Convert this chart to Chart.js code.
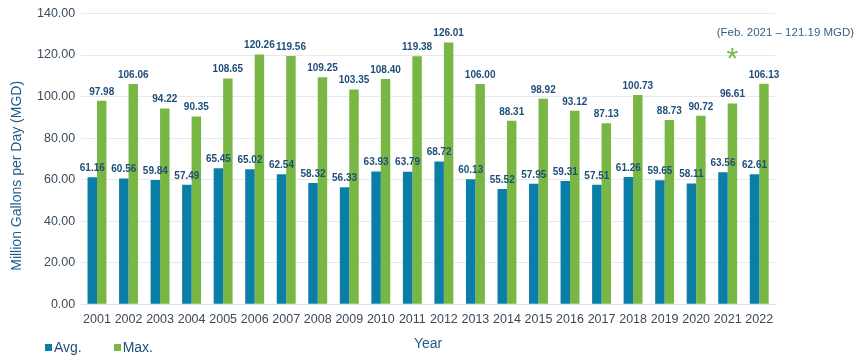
<!DOCTYPE html>
<html>
<head>
<meta charset="utf-8">
<script src="https://cdn.jsdelivr.net/npm/chart.js@4.4.1/dist/chart.umd.min.js"></script>
<style>
  body { margin: 0; background: #fff; }
  #wrap { position: relative; width: 860px; height: 360px; }
  #legend { position: absolute; left: 45px; top: 339px; font: 14px Arial, "Liberation Sans", sans-serif; color: #1f4e79; }
  #legend span { display: inline-block; margin-right: 28px; }
  #legend i { display: inline-block; width: 7px; height: 7px; margin-right: 2px; vertical-align: 1px; }
</style>
</head>
<body>
<div id="wrap">
  <canvas id="waterChart" width="860" height="360"></canvas>
  <div id="legend">
    <span><i style="background:#0b7ea8"></i>Avg.</span>
    <span><i style="background:#79b745"></i>Max.</span>
  </div>
</div>
<script>
// data
const years = ['2001','2002','2003','2004','2005','2006','2007','2008','2009','2010','2011',
  '2012','2013','2014','2015','2016','2017','2018','2019','2020','2021','2022'];
const avgFlow = [61.16, 60.56, 59.84, 57.49, 65.45, 65.02, 62.54, 58.32, 56.33, 63.93, 63.79,
  68.72, 60.13, 55.52, 57.95, 59.31, 57.51, 61.26, 59.65, 58.11, 63.56, 62.61];
const maxFlow = [97.98, 106.06, 94.22, 90.35, 108.65, 120.26, 119.56, 109.25, 103.35, 108.40, 119.38,
  126.01, 106.00, 88.31, 98.92, 93.12, 87.13, 100.73, 88.73, 90.72, 96.61, 106.13];
const peakYear = '2021';
const peakValue = 121.19;
const peakNote = '(Feb. 2021 \u2013 121.19 MGD)';
const yTitle = 'Million Gallons per Day (MGD)';

const FONT = 'Arial, "Liberation Sans", sans-serif';

// value labels over each bar
const barLabels = {
  id: 'barLabels',
  afterDatasetsDraw(chart) {
    const ctx = chart.ctx;
    ctx.save();
    ctx.font = 'bold 10px ' + FONT;
    ctx.fillStyle = '#1f4e79';
    ctx.textAlign = 'center';
    ctx.textBaseline = 'bottom';
    chart.data.datasets.forEach((ds, i) => {
      chart.getDatasetMeta(i).data.forEach((bar, j) => {
        ctx.fillText(ds.data[j].toFixed(2), bar.x, bar.y - 4);
      });
    });
    ctx.restore();
  }
};

// asterisk + note for the Feb 2021 peak, plus the y title (sits a bit low in the original)
const peakMark = {
  id: 'peakMark',
  afterDraw(chart) {
    const ctx = chart.ctx;
    const idx = years.indexOf(peakYear);
    const bar = chart.getDatasetMeta(1).data[idx];
    const y = chart.scales.y.getPixelForValue(peakValue);
    ctx.save();
    ctx.fillStyle = '#7ab648';
    ctx.font = '30px ' + FONT;
    ctx.textAlign = 'center';
    ctx.textBaseline = 'middle';
    ctx.fillText('*', bar.x, y + 7);
    ctx.fillStyle = '#3a5f84';
    ctx.font = '11.5px ' + FONT;
    ctx.fillText(peakNote, bar.x + 53, y - 20);

    const area = chart.chartArea;
    ctx.translate(17, (area.top + area.bottom) / 2 + 17);
    ctx.rotate(-Math.PI / 2);
    ctx.fillStyle = '#1f5c8a';
    ctx.font = '14px ' + FONT;
    ctx.fillText(yTitle, 0, 0);
    ctx.restore();
  }
};

new Chart(document.getElementById('waterChart'), {
  type: 'bar',
  data: {
    labels: years,
    datasets: [
      { label: 'Avg.', data: avgFlow, backgroundColor: '#0b7ea8' },
      { label: 'Max.', data: maxFlow, backgroundColor: '#79b745' }
    ]
  },
  options: {
    responsive: false,
    animation: false,
    categoryPercentage: 0.6,
    barPercentage: 1.0,
    layout: { padding: { top: 6, right: 85, left: 31, bottom: 0 } },
    plugins: {
      legend: { display: false },
      tooltip: { enabled: false }
    },
    scales: {
      x: {
        grid: { display: false },
        border: { color: '#dde3e8' },
        ticks: { color: '#3a4a5c', font: { size: 12.5, family: FONT }, padding: 0,
          maxRotation: 0, minRotation: 0, autoSkip: false },
        title: { display: true, text: 'Year', color: '#1f5c8a', font: { size: 14, family: FONT }, padding: { top: 9, bottom: 7 } }
      },
      y: {
        min: 0,
        max: 140,
        ticks: { stepSize: 20, color: '#3a4a5c', font: { size: 12.5, family: FONT }, padding: 6,
          callback: v => v.toFixed(2) },
        grid: { color: '#e6eaee', drawTicks: false },
        border: { display: false },
        title: { display: false }
      }
    }
  },
  plugins: [barLabels, peakMark]
});
</script>
</body>
</html>
